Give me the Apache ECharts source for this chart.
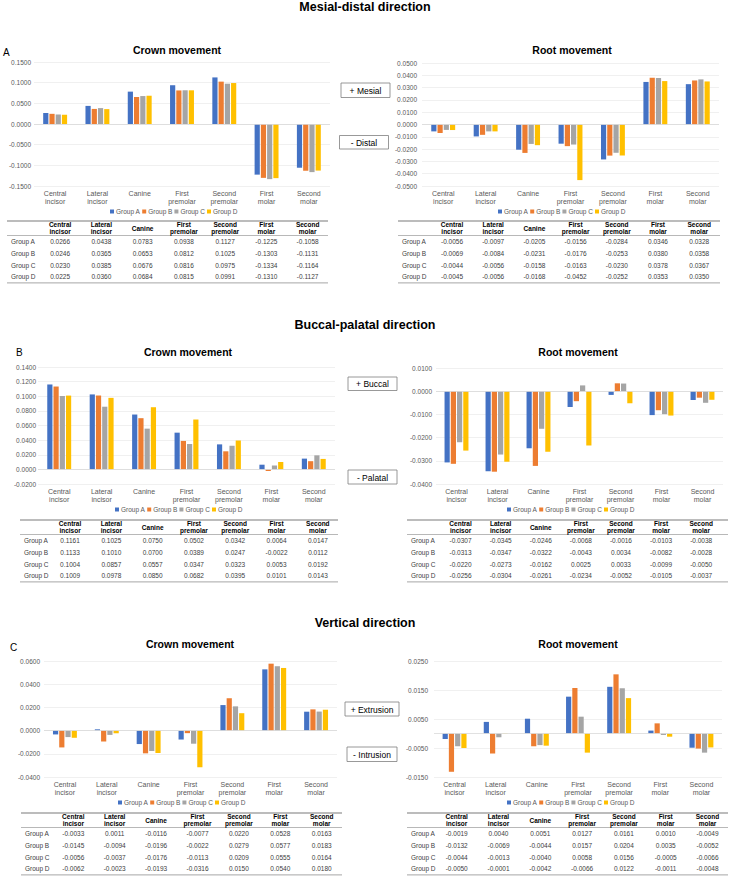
<!DOCTYPE html>
<html><head><meta charset="utf-8">
<script src="https://cdn.jsdelivr.net/npm/echarts@6/dist/echarts.min.js"></script>
<style>html,body{margin:0;padding:0;background:#fff}#c{width:730px;height:877px}</style>
</head><body><div id="c"></div>
<script>
// ---------------- DATA ----------------
const categories = ['Central\nincisor', 'Lateral\nincisor', 'Canine', 'First\npremolar', 'Second\npremolar', 'First\nmolar', 'Second\nmolar'];
const groups = ['Group A', 'Group B', 'Group C', 'Group D'];

// Mesial-distal, crown
const mdCrownA = [0.0266, 0.0438, 0.0783, 0.0938, 0.1127, -0.1225, -0.1058];
const mdCrownB = [0.0246, 0.0365, 0.0653, 0.0812, 0.1025, -0.1303, -0.1131];
const mdCrownC = [0.0230, 0.0385, 0.0676, 0.0816, 0.0975, -0.1334, -0.1164];
const mdCrownD = [0.0225, 0.0360, 0.0684, 0.0815, 0.0991, -0.1310, -0.1127];
// Mesial-distal, root
const mdRootA = [-0.0056, -0.0097, -0.0205, -0.0156, -0.0284, 0.0346, 0.0328];
const mdRootB = [-0.0069, -0.0084, -0.0231, -0.0176, -0.0253, 0.0380, 0.0358];
const mdRootC = [-0.0044, -0.0056, -0.0158, -0.0163, -0.0230, 0.0378, 0.0367];
const mdRootD = [-0.0045, -0.0056, -0.0168, -0.0452, -0.0252, 0.0353, 0.0350];
// Buccal-palatal, crown
const bpCrownA = [0.1161, 0.1025, 0.0750, 0.0502, 0.0342, 0.0064, 0.0147];
const bpCrownB = [0.1133, 0.1010, 0.0700, 0.0389, 0.0247, -0.0022, 0.0112];
const bpCrownC = [0.1004, 0.0857, 0.0557, 0.0347, 0.0323, 0.0053, 0.0192];
const bpCrownD = [0.1009, 0.0978, 0.0850, 0.0682, 0.0395, 0.0101, 0.0143];
// Buccal-palatal, root
const bpRootA = [-0.0307, -0.0345, -0.0246, -0.0068, -0.0016, -0.0103, -0.0038];
const bpRootB = [-0.0313, -0.0347, -0.0322, -0.0043, 0.0034, -0.0082, -0.0028];
const bpRootC = [-0.0220, -0.0273, -0.0162, 0.0025, 0.0033, -0.0099, -0.0050];
const bpRootD = [-0.0256, -0.0304, -0.0261, -0.0234, -0.0052, -0.0105, -0.0037];
// Vertical, crown
const vCrownA = [-0.0033, 0.0011, -0.0116, -0.0077, 0.0220, 0.0528, 0.0163];
const vCrownB = [-0.0145, -0.0094, -0.0196, -0.0022, 0.0279, 0.0577, 0.0183];
const vCrownC = [-0.0056, -0.0037, -0.0176, -0.0113, 0.0209, 0.0555, 0.0164];
const vCrownD = [-0.0062, -0.0023, -0.0193, -0.0316, 0.0150, 0.0540, 0.0180];
// Vertical, root
const vRootA = [-0.0019, 0.0040, 0.0051, 0.0127, 0.0161, 0.0010, -0.0049];
const vRootB = [-0.0132, -0.0069, -0.0044, 0.0157, 0.0204, 0.0035, -0.0052];
const vRootC = [-0.0044, -0.0013, -0.0040, 0.0058, 0.0156, -0.0005, -0.0066];
const vRootD = [-0.0050, -0.0001, -0.0042, -0.0066, 0.0122, -0.0011, -0.0048];

// Tick labels (value axes)
const mdCrownTicks = [-0.15, -0.10, -0.05, 0, 0.05, 0.10, 0.15];
const mdRootTicks = [-0.05, -0.04, -0.03, -0.02, -0.01, 0, 0.01, 0.02, 0.03, 0.04, 0.05];
const bpCrownTicks = [-0.02, 0, 0.02, 0.04, 0.06, 0.08, 0.10, 0.12, 0.14];
const bpRootTicks = [-0.04, -0.03, -0.02, -0.01, 0, 0.01];
const vCrownTicks = [-0.04, -0.02, 0, 0.02, 0.04, 0.06];
const vRootTicks = [-0.015, -0.005, 0.005, 0.015, 0.025];

const sectionTitles = ['Mesial-distal direction', 'Buccal-palatal direction', 'Vertical direction'];
const panelLetters = ['A', 'B', 'C'];
const chartTitles = ['Crown movement', 'Root movement'];
const directionLabels = [['+ Mesial', '- Distal'], ['+ Buccal', '- Palatal'], ['+ Extrusion', '- Intrusion']];

// ---------------- LAYOUT / STYLE ----------------
const colors = ['#4472C4', '#ED7D31', '#A5A5A5', '#FFC000'];
const FONT = '"Liberation Sans", Arial, Helvetica, sans-serif';

const charts = [
  { data: [mdCrownA, mdCrownB, mdCrownC, mdCrownD], ticks: mdCrownTicks,
    grid: { left: 34, top: 62, width: 296, height: 124 }, labelMargin: 3,
    legend: { left: 110, top: 208 }, titleX: 177, titleY: 50,
    table: { left: 7, first: 32.5, colW: 41.25, right: 328, top: 221 } },
  { data: [mdRootA, mdRootB, mdRootC, mdRootD], ticks: mdRootTicks,
    grid: { left: 422, top: 63, width: 297, height: 123 }, labelMargin: 5,
    legend: { left: 498, top: 208 }, titleX: 572, titleY: 50,
    table: { left: 398, first: 33.4, colW: 41.2, right: 720, top: 221 } },
  { data: [bpCrownA, bpCrownB, bpCrownC, bpCrownD], ticks: bpCrownTicks,
    grid: { left: 38, top: 367, width: 297, height: 117 }, labelMargin: 2,
    legend: { left: 115, top: 506 }, titleX: 188, titleY: 352,
    table: { left: 20, first: 29.4, colW: 41.3, right: 338, top: 520 } },
  { data: [bpRootA, bpRootB, bpRootC, bpRootD], ticks: bpRootTicks,
    grid: { left: 436, top: 368, width: 287, height: 116 }, labelMargin: 4,
    legend: { left: 507, top: 506 }, titleX: 578, titleY: 352,
    table: { left: 407, first: 33.5, colW: 40.1, right: 728, top: 520 } },
  { data: [vCrownA, vCrownB, vCrownC, vCrownD], ticks: vCrownTicks,
    grid: { left: 44, top: 661, width: 293, height: 116 }, labelMargin: 4,
    legend: { left: 118, top: 799 }, titleX: 190, titleY: 644,
    table: { left: 21, first: 31.6, colW: 41.4, right: 342, top: 813 } },
  { data: [vRootA, vRootB, vRootC, vRootD], ticks: vRootTicks,
    grid: { left: 434, top: 661, width: 288, height: 116 }, labelMargin: 6,
    legend: { left: 507, top: 799 }, titleX: 578, titleY: 644,
    table: { left: 407, first: 28.8, colW: 41.8, right: 728, top: 813 } }
];
const sectionTitleY = [7, 325, 623];
const letterPos = [[3, 52], [16, 352], [10, 647]];
const boxes = [
  [{ x: 341, y: 83, w: 49, h: 14.5 }, { x: 339.5, y: 135.5, w: 49, h: 13.5 }],
  [{ x: 348, y: 377, w: 49, h: 13.5 }, { x: 348, y: 470, w: 49, h: 14 }],
  [{ x: 345, y: 702, w: 54, h: 14 }, { x: 347, y: 747, w: 50, h: 14.5 }]
];

// ---------------- BUILD ----------------
const grids = [], xAxes = [], yAxes = [], series = [], legends = [], graphics = [];

function txt(x, y, text, o) {
  return { type: 'text', x: x, y: y, silent: true,
    style: Object.assign({ text: text, fontFamily: FONT, fontSize: 7, fill: '#404040', align: 'center', verticalAlign: 'middle' }, o || {}) };
}
function ln(x1, y1, x2, y2, stroke, w) {
  return { type: 'line', silent: true, shape: { x1: x1, y1: y1, x2: x2, y2: y2 }, style: { stroke: stroke, lineWidth: w } };
}

charts.forEach((c, k) => {
  const t = c.ticks;
  const step = Math.round((t[1] - t[0]) * 10000) / 10000;
  grids.push(Object.assign({ containLabel: false }, c.grid));
  xAxes.push({ type: 'category', gridIndex: k, data: categories,
    axisLine: { show: false }, axisTick: { show: false },
    axisLabel: { interval: 0, fontFamily: FONT, fontSize: 7, color: '#595959', lineHeight: 7.5, margin: 4 } });
  yAxes.push({ type: 'value', gridIndex: k, min: t[0], max: t[t.length - 1], interval: step,
    axisLine: { show: false }, axisTick: { show: false, customValues: t },
    splitLine: { lineStyle: { color: '#ececec', width: 0.8 } },
    axisLabel: { customValues: t, fontFamily: FONT, fontSize: 6.5, color: '#595959', margin: c.labelMargin,
      formatter: v => v.toFixed(4) } });
  c.data.forEach((arr, g) => {
    const s = { type: 'bar', name: groups[g], xAxisIndex: k, yAxisIndex: k, data: arr,
      barWidth: 5.2, barGap: '20%', itemStyle: { color: colors[g] }, silent: true, animation: false };
    if (g === 0) {
      s.markLine = { silent: true, symbol: 'none', label: { show: false }, animation: false,
        lineStyle: { color: '#d9d9d9', type: 'solid', width: 0.8 }, data: [{ yAxis: 0 }] };
    }
    series.push(s);
  });
  legends.push({ left: c.legend.left, top: c.legend.top, data: groups, itemWidth: 4, itemHeight: 4, itemGap: 2,
    icon: 'rect', selectedMode: false, textStyle: { fontFamily: FONT, fontSize: 6.5, color: '#595959', padding: [0, 0, 0, -3] }, padding: 0 });

  // chart title
  graphics.push(txt(c.titleX, c.titleY, chartTitles[k % 2], { fontSize: 10.5, fontWeight: 'bold', fill: '#000' }));

  // table
  const tb = c.table;
  const headH = 14.5, rowH = 11.7, off = 6.3;
  const right = tb.right;
  graphics.push(ln(tb.left, tb.top, right, tb.top, '#a6a6a6', 1.4));
  graphics.push(ln(tb.left, tb.top + headH, right, tb.top + headH, '#a6a6a6', 0.8));
  categories.forEach((cat, i) => {
    const cx = tb.left + tb.first + (i + 0.5) * tb.colW;
    const lines = cat.split('\n');
    const lh = 6.8;
    lines.forEach((l, j) => {
      const y = tb.top + headH / 2 + (j - (lines.length - 1) / 2) * lh;
      graphics.push(txt(cx, y, l, { fontSize: 6.5, fontWeight: 'bold', fill: '#000' }));
    });
  });
  c.data.forEach((arr, g) => {
    const y = tb.top + headH + off + g * rowH;
    graphics.push(txt(tb.left + 4, y, groups[g], { fontSize: 6.5, align: 'left' }));
    arr.forEach((v, i) => {
      graphics.push(txt(tb.left + tb.first + (i + 0.5) * tb.colW, y, v.toFixed(4), { fontSize: 6.5 }));
    });
  });
  const by = tb.top + headH + off + 3 * rowH + 6;
  graphics.push(ln(tb.left, by, right, by, '#a6a6a6', 1));
});

sectionTitles.forEach((s, i) => {
  graphics.push(txt(365, sectionTitleY[i], s, { fontSize: 12.5, fontWeight: 'bold', fill: '#000' }));
  graphics.push(txt(letterPos[i][0], letterPos[i][1], panelLetters[i], { fontSize: 10, fill: '#000', align: 'left' }));
  boxes[i].forEach((b, j) => {
    graphics.push({ type: 'rect', silent: true, shape: { x: b.x, y: b.y, width: b.w, height: b.h },
      style: { fill: '#fff', stroke: '#7f7f7f', lineWidth: 0.8 } });
    graphics.push(txt(b.x + b.w / 2, b.y + b.h / 2 + 0.5, directionLabels[i][j], { fontSize: 8.5, fill: '#000' }));
  });
});

const chart = echarts.init(document.getElementById('c'), null, { renderer: 'svg', width: 730, height: 877 });
chart.setOption({
  backgroundColor: '#fff',
  animation: false,
  grid: grids, xAxis: xAxes, yAxis: yAxes, series: series, legend: legends,
  graphic: { elements: graphics }
});
</script>
</body></html>
